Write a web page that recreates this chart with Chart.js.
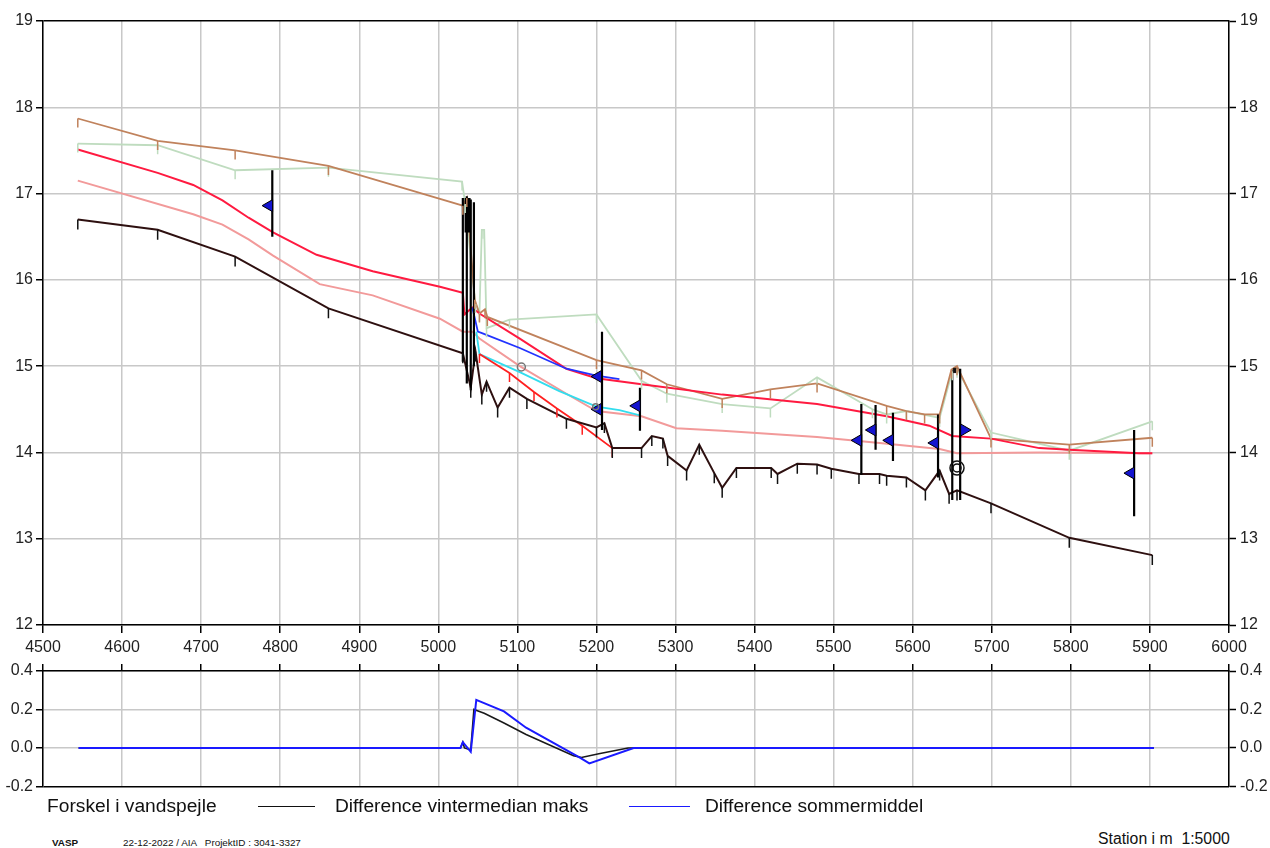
<!DOCTYPE html>
<html>
<head>
<meta charset="utf-8">
<script src="https://cdn.jsdelivr.net/npm/chart.js@4.4.1/dist/chart.umd.min.js"></script>
<style>
body { margin: 0; background: #fff; width: 1270px; height: 848px; overflow: hidden; position: relative; font-family: "Liberation Sans", Arial, sans-serif; }
#main { position: absolute; left: 0; top: 0; }
#diff { position: absolute; left: 0; top: 655px; }
.txt { position: absolute; white-space: nowrap; color: #111; }
.legend { top: 795px; font-size: 19.2px; }
.swatch { position: absolute; top: 806px; height: 0; border-top: 1.5px solid #111; }
.foot { top: 837px; font-size: 9.9px; }
</style>
</head>
<body>
<canvas id="main" width="1270" height="655"></canvas>
<canvas id="diff" width="1270" height="145"></canvas>

<div class="txt legend" style="left:47px">Forskel i vandspejle</div>
<div class="swatch" style="left:258px;width:57px"></div>
<div class="txt legend" style="left:335px">Difference vintermedian maks</div>
<div class="swatch" style="left:629px;width:61px;border-color:#1a1aff"></div>
<div class="txt legend" style="left:705px">Difference sommermiddel</div>
<div class="txt foot" style="left:52px;font-weight:bold">VASP</div>
<div class="txt foot" style="left:123px">22-12-2022 / AIA &nbsp;&nbsp;ProjektID : 3041-3327</div>
<div class="txt" style="left:1098px;top:830px;font-size:15.8px">Station i m &nbsp;1:5000</div>

<script>
// Bund (bed level)
const stationsBed = [4544, 4645, 4743, 4861, 5031, 5041, 5047, 5055, 5061, 5075, 5090, 5112, 5162, 5200, 5210, 5220, 5257, 5270, 5284, 5290, 5314, 5330, 5349, 5359, 5377, 5421, 5429, 5454, 5479, 5497, 5532, 5558, 5567, 5592, 5616, 5634, 5646, 5656, 5699, 5798, 5903];
const levelBed = [16.70, 16.58, 16.27, 15.67, 15.15, 14.75, 15.17, 14.67, 14.82, 14.52, 14.75, 14.62, 14.39, 14.29, 14.34, 14.05, 14.05, 14.19, 14.16, 13.96, 13.79, 14.09, 13.76, 13.59, 13.82, 13.82, 13.75, 13.87, 13.86, 13.81, 13.75, 13.75, 13.73, 13.71, 13.56, 13.79, 13.52, 13.56, 13.41, 13.01, 12.81];

// Terraen (bank, brown)
const stationsBank = [4544, 4645, 4743, 4861, 5031, 5036, 5046, 5052, 5059, 5062, 5200, 5257, 5289, 5359, 5420, 5479, 5567, 5592, 5615, 5634, 5649, 5656, 5699, 5798, 5903];
const levelBank = [17.87, 17.61, 17.50, 17.32, 16.86, 16.95, 15.77, 15.61, 15.66, 15.57, 15.07, 14.95, 14.79, 14.62, 14.73, 14.80, 14.54, 14.48, 14.44, 14.44, 14.96, 15.00, 14.16, 14.09, 14.17];

// Terraen (other bank, light green)
const stationsGreen = [4544, 4645, 4743, 4861, 5030, 5034, 5047, 5052, 5055, 5058, 5061, 5090, 5200, 5257, 5289, 5359, 5420, 5479, 5549, 5567, 5592, 5634, 5650, 5656, 5699, 5798, 5903];
const levelGreen = [17.58, 17.56, 17.27, 17.30, 17.14, 16.88, 15.72, 15.62, 16.58, 16.58, 15.44, 15.54, 15.60, 14.83, 14.68, 14.56, 14.51, 14.87, 14.50, 14.44, 14.48, 14.40, 14.94, 14.97, 14.23, 14.02, 14.36];

// Vandspejl (red)
const stationsWs = [4544, 4645, 4690, 4727, 4760, 4791, 4846, 4917, 5002, 5031, 5033, 5043, 5052, 5103, 5162, 5200, 5257, 5359, 5479, 5567, 5621, 5650, 5699, 5760, 5798, 5886, 5903];
const levelWs = [17.51, 17.24, 17.10, 16.92, 16.72, 16.55, 16.29, 16.10, 15.92, 15.85, 15.60, 15.68, 15.61, 15.32, 14.97, 14.86, 14.79, 14.67, 14.56, 14.42, 14.31, 14.19, 14.16, 14.05, 14.03, 13.99, 13.99];

// Vandspejl (salmon)
const stationsSalmon = [4544, 4690, 4727, 4760, 4791, 4850, 4917, 5002, 5031, 5043, 5052, 5103, 5162, 5200, 5257, 5301, 5359, 5479, 5558, 5634, 5656, 5760, 5903];
const levelSalmon = [17.15, 16.76, 16.64, 16.47, 16.28, 15.95, 15.82, 15.55, 15.40, 15.40, 15.32, 15.00, 14.68, 14.48, 14.42, 14.28, 14.25, 14.18, 14.11, 14.04, 13.99, 14.00, 13.99];

// Local branches around the weir
const stationsBlue = [5043, 5050, 5056, 5103, 5162, 5200, 5229];
const levelBlue = [15.68, 15.40, 15.38, 15.21, 14.97, 14.89, 14.85];
const stationsCyan = [5048, 5052, 5103, 5153, 5200, 5229, 5255];
const levelCyan = [15.40, 15.14, 14.93, 14.71, 14.53, 14.49, 14.43];
const stationsRed2 = [5052, 5090, 5121, 5150, 5182, 5220];
const levelRed2 = [15.14, 14.92, 14.70, 14.51, 14.31, 14.05];

// Bygvaerker (vertical structure lines)
const structStations = [4790, 5031, 5036, 5041, 5045, 5207, 5255, 5535, 5553, 5575, 5632, 5650, 5660, 5880];
const structTop = [17.27, 16.95, 16.97, 16.93, 16.90, 15.40, 14.75, 14.56, 14.55, 14.46, 14.44, 14.95, 14.97, 14.26];
const structBottom = [16.50, 15.05, 14.80, 14.72, 15.00, 14.26, 14.25, 13.74, 14.03, 13.90, 13.71, 13.45, 13.45, 13.26];

// Flag markers
const flagStations = [4786, 5202, 5202, 5251, 5531, 5549, 5571, 5628, 5665, 5876];
const flagLevels = [16.86, 14.88, 14.50, 14.54, 14.14, 14.26, 14.14, 14.11, 14.26, 13.76];
const flagRotation = [270, 270, 270, 270, 270, 270, 270, 270, 90, 270];

// Circle markers
const circleStations = [5105, 5199, 5656, 5656];
const circleLevels = [14.99, 14.53, 13.82, 13.82];
const circleSizes = [4, 3, 7, 4];
const circleColors = ['#777', '#777', '#111', '#111'];

// Lower panel: forskel i vandspejle
const diffStationsVinter = [4545, 5028, 5031, 5033, 5041, 5045, 5052, 5058, 5083, 5111, 5171, 5181, 5203, 5240, 5905];
const diffVinter = [0, 0, 0.03, 0, -0.01, 0.20, 0.19, 0.18, 0.13, 0.07, -0.04, -0.05, -0.03, 0, 0];
const diffStationsSommer = [4545, 5028, 5031, 5041, 5048, 5083, 5111, 5179, 5191, 5247, 5905];
const diffSommer = [0, 0, 0.03, -0.02, 0.25, 0.19, 0.105, -0.05, -0.08, 0, 0];

const toPoints = (xs, ys) => xs.map((x, i) => ({ x: x, y: ys[i] }));

// vertical segments separated by gaps
const structPoints = [];
structStations.forEach((s, i) => {
    structPoints.push({ x: s, y: structTop[i] }, { x: s, y: structBottom[i] }, { x: s, y: null });
});

// Draw short hanging ticks at every vertex of a line
const hangTicks = {
    id: 'hangTicks',
    afterDatasetsDraw(chart) {
        const ctx = chart.ctx;
        chart.data.datasets.forEach((ds, i) => {
            if (!ds.hang) return;
            const meta = chart.getDatasetMeta(i);
            ctx.save();
            ctx.strokeStyle = ds.hang.color;
            ctx.lineWidth = 1.5;
            ctx.beginPath();
            meta.data.forEach(pt => {
                ctx.moveTo(pt.x, pt.y);
                ctx.lineTo(pt.x, pt.y + ds.hang.len);
            });
            ctx.stroke();
            ctx.restore();
        });
    }
};

const line = (data, color, width, order, extra) => Object.assign({
    data: data,
    showLine: true,
    borderColor: color,
    borderWidth: width,
    pointRadius: 0,
    tension: 0,
    spanGaps: false,
    order: order
}, extra || {});

const tickFont = { family: '"Liberation Sans", Arial, sans-serif', size: 16 };
const gridGrey = '#c8c8c8';

new Chart(document.getElementById('main'), {
    type: 'scatter',
    data: {
        datasets: [
            line(toPoints(stationsGreen, levelGreen), '#bfdcbf', 1.8, 20, { hang: { color: '#bfdcbf', len: 9 } }),
            line(toPoints(stationsBank, levelBank), '#c0825c', 1.8, 19, { hang: { color: '#c0825c', len: 9 } }),
            line(toPoints(stationsSalmon, levelSalmon), '#f29a9a', 2, 18),
            line(toPoints(stationsWs, levelWs), '#ff1a40', 2, 17),
            line(toPoints(stationsBlue, levelBlue), '#2233ff', 1.8, 16),
            line(toPoints(stationsCyan, levelCyan), '#33ddee', 1.8, 15),
            line(toPoints(stationsRed2, levelRed2), '#ff2020', 1.8, 14, { hang: { color: '#ff2020', len: 9 } }),
            line(toPoints(stationsBed, levelBed), '#2e1010', 2, 13, { hang: { color: '#111', len: 10 } }),
            line(structPoints, '#000', 2.2, 12),
            line([{ x: 5037, y: 16.95 }, { x: 5037, y: 16.55 }], '#000', 6, 11),
            {
                data: toPoints(flagStations, flagLevels),
                showLine: false,
                pointStyle: 'triangle',
                pointRadius: 7,
                pointRotation: flagRotation,
                backgroundColor: '#1414d0',
                borderColor: '#000',
                borderWidth: 1,
                order: 5
            },
            {
                data: toPoints(circleStations, circleLevels),
                showLine: false,
                pointStyle: 'circle',
                pointRadius: circleSizes,
                backgroundColor: 'rgba(0,0,0,0)',
                borderColor: circleColors,
                borderWidth: 1.5,
                order: 4
            },
            {
                data: [{ x: 5654, y: 14.95 }],
                showLine: false,
                pointStyle: 'rect',
                pointRadius: 3,
                backgroundColor: '#111',
                borderColor: '#111',
                order: 3
            }
        ]
    },
    options: {
        responsive: false,
        animation: false,
        events: [],
        layout: { padding: { top: 21, left: 0, right: 0, bottom: 0 } },
        plugins: { legend: { display: false }, tooltip: { enabled: false } },
        scales: {
            x: {
                type: 'linear', min: 4500, max: 6000, position: 'bottom',
                ticks: { stepSize: 100, color: '#222', font: tickFont, padding: 5, maxRotation: 0, autoSkip: false, callback: v => String(v) },
                grid: { color: gridGrey, lineWidth: 1.5, tickColor: '#000', tickLength: 8, tickWidth: 1.5 },
                border: { color: '#000', width: 1.5 },
                afterFit: s => { s.height = 30; }
            },
            y: {
                min: 12, max: 19, position: 'left',
                ticks: { stepSize: 1, color: '#222', font: tickFont, padding: 3 },
                grid: { color: c => c.tick.value === 19 ? '#000' : gridGrey, lineWidth: 1.5, tickColor: '#000', tickLength: 7, tickWidth: 1.5 },
                border: { color: '#000', width: 1.5 },
                afterFit: s => { s.width = 43; }
            },
            y2: {
                min: 12, max: 19, position: 'right',
                ticks: { stepSize: 1, color: '#222', font: tickFont, padding: 4 },
                grid: { drawOnChartArea: false, tickColor: '#000', tickLength: 7, tickWidth: 1.5 },
                border: { color: '#000', width: 1.5 },
                afterFit: s => { s.width = 41; }
            }
        }
    },
    plugins: [hangTicks]
});

const isVal = (v, t) => Math.abs(v - t) < 1e-6;

new Chart(document.getElementById('diff'), {
    type: 'scatter',
    data: {
        datasets: [
            line(toPoints(diffStationsVinter, diffVinter), '#1a1a1a', 1.6, 2),
            line(toPoints(diffStationsSommer, diffSommer), '#1a1aff', 2, 1)
        ]
    },
    options: {
        responsive: false,
        animation: false,
        events: [],
        layout: { padding: { top: 9, left: 0, right: 0, bottom: 12 } },
        plugins: { legend: { display: false }, tooltip: { enabled: false } },
        scales: {
            x: {
                type: 'linear', min: 4500, max: 6000, position: 'top',
                ticks: { stepSize: 100, display: false },
                grid: { color: gridGrey, lineWidth: 1.5, tickColor: '#000', tickLength: 7, tickWidth: 1.5 },
                border: { color: '#000', width: 1.5 },
                afterFit: s => { s.height = 7; }
            },
            y: {
                min: -0.2, max: 0.4, position: 'left',
                ticks: { stepSize: 0.2, color: '#222', font: tickFont, padding: 3, callback: v => v.toFixed(1) },
                grid: { color: c => isVal(c.tick.value, -0.2) ? '#000' : gridGrey, lineWidth: 1.5, tickColor: '#000', tickLength: 7, tickWidth: 1.5 },
                border: { color: '#000', width: 1.5 },
                afterFit: s => { s.width = 43; }
            },
            y2: {
                min: -0.2, max: 0.4, position: 'right',
                ticks: { stepSize: 0.2, color: '#222', font: tickFont, padding: 4, callback: v => v.toFixed(1) },
                grid: { drawOnChartArea: false, tickColor: '#000', tickLength: 7, tickWidth: 1.5 },
                border: { color: '#000', width: 1.5 },
                afterFit: s => { s.width = 41; }
            }
        }
    }
});
</script>
</body>
</html>
